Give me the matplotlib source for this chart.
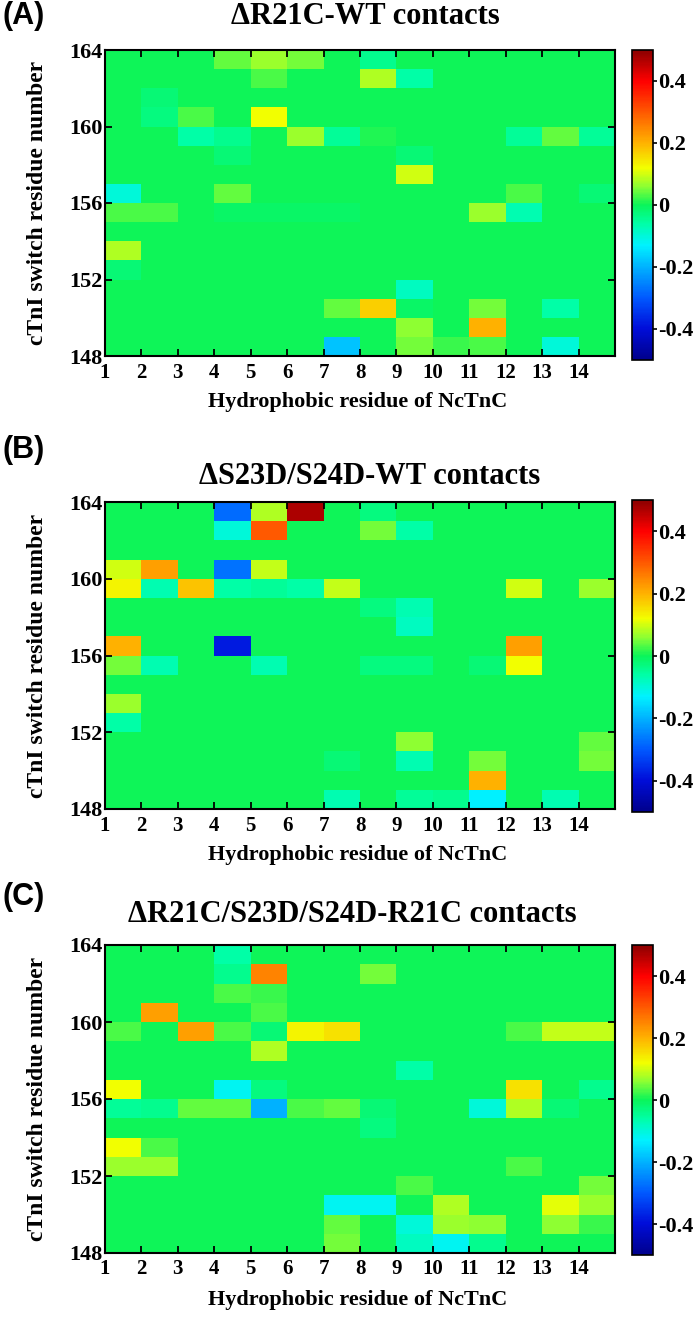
import numpy as np
import matplotlib
matplotlib.use("Agg")
import matplotlib.pyplot as plt
from matplotlib.colors import LinearSegmentedColormap

# ---- data (rows: residue 148 .. 163 bottom->top, cols: NcTnC hydrophobic residue 1..14)
residues_x = list(range(1, 15))
residues_y = list(range(148, 164))

panel_A = [
    [0, 0, 0, 0, 0, 0, -0.18, 0, 0.05, 0.02, 0.03, 0, -0.10, 0],      # 148
    [0, 0, 0, 0, 0, 0, 0, 0, 0.06, 0, 0.20, 0, 0, 0],                 # 149
    [0, 0, 0, 0, 0, 0, 0.04, 0.17, -0.01, 0, 0.05, 0, -0.06, 0],      # 150
    [0, 0, 0, 0, 0, 0, 0, 0, -0.08, 0, 0, 0, 0, 0],                   # 151
    [-0.02, 0, 0, 0, 0, 0, 0, 0, 0, 0, 0, 0, 0, 0],                   # 152
    [0.08, 0, 0, 0, 0, 0, 0, 0, 0, 0, 0, 0, 0, 0],                    # 153
    [0, 0, 0, 0, 0, 0, 0, 0, 0, 0, 0, 0, 0, 0],                       # 154
    [0.03, 0.03, 0, -0.01, -0.01, -0.01, -0.01, 0, 0, 0, 0.07, -0.07, 0, 0],  # 155
    [-0.10, 0, 0, 0.04, 0, 0, 0, 0, 0, 0, 0, 0.03, 0, -0.02],         # 156
    [0, 0, 0, 0, 0, 0, 0, 0, 0.10, 0, 0, 0, 0, 0],                    # 157
    [0, 0, 0, -0.02, 0, 0, 0, 0, -0.02, 0, 0, 0, 0, 0],               # 158
    [0, 0, -0.06, -0.04, 0, 0.07, -0.05, 0.01, 0, 0, 0, -0.05, 0.04, -0.05],  # 159
    [0, -0.03, 0.03, 0, 0.12, 0, 0, 0, 0, 0, 0, 0, 0, 0],             # 160
    [0, -0.02, 0, 0, 0, 0, 0, 0, 0, 0, 0, 0, 0, 0],                   # 161
    [0, 0, 0, 0, 0.03, 0, 0, 0.08, -0.06, 0, 0, 0, 0, 0],             # 162
    [0, 0, 0, 0.04, 0.07, 0.05, 0, -0.04, 0, 0, 0, 0, 0, 0],          # 163
]

panel_B = [
    [0, 0, 0, 0, 0, 0, -0.07, 0, -0.05, -0.04, -0.13, 0, -0.07, 0],   # 148
    [0, 0, 0, 0, 0, 0, 0, 0, 0, 0, 0.20, 0, 0, 0],                    # 149
    [0, 0, 0, 0, 0, 0, -0.02, 0, -0.07, 0, 0.05, 0, 0, 0.05],         # 150
    [0, 0, 0, 0, 0, 0, 0, 0, 0.06, 0, 0, 0, 0, 0.04],                 # 151
    [-0.06, 0, 0, 0, 0, 0, 0, 0, 0, 0, 0, 0, 0, 0],                   # 152
    [0.07, 0, 0, 0, 0, 0, 0, 0, 0, 0, 0, 0, 0, 0],                    # 153
    [0, 0, 0, 0, 0, 0, 0, 0, 0, 0, 0, 0, 0, 0],                       # 154
    [0.05, -0.07, 0, 0, -0.07, 0, 0, -0.03, -0.03, 0, -0.02, 0.12, 0, 0],  # 155
    [0.20, 0, 0, -0.38, 0, 0, 0, 0, 0, 0, 0, 0.22, 0, 0],             # 156
    [0, 0, 0, 0, 0, 0, 0, 0, -0.08, 0, 0, 0, 0, 0],                   # 157
    [0, 0, 0, 0, 0, 0, 0, -0.03, -0.07, 0, 0, 0, 0, 0],               # 158
    [0.13, -0.07, 0.18, -0.06, -0.05, -0.06, 0.09, 0, 0, 0, 0, 0.10, 0, 0.07],  # 159
    [0.10, 0.22, 0, -0.27, 0.09, 0, 0, 0, 0, 0, 0, 0, 0, 0],          # 160
    [0, 0, 0, 0, 0, 0, 0, 0, 0, 0, 0, 0, 0, 0],                       # 161
    [0, 0, 0, -0.10, 0.30, 0, 0, 0.05, -0.06, 0, 0, 0, 0, 0],         # 162
    [0, 0, 0, -0.28, 0.08, 0.47, 0, -0.03, 0, 0, 0, 0, 0, 0],         # 163
]

panel_C = [
    [0, 0, 0, 0, 0, 0, 0.05, 0, -0.08, -0.12, -0.04, 0, 0, 0],        # 148
    [0, 0, 0, 0, 0, 0, 0.04, 0, -0.10, 0.07, 0.06, 0, 0.06, 0.02],    # 149
    [0, 0, 0, 0, 0, 0, -0.12, -0.12, 0, 0.08, 0, 0, 0.11, 0.07],      # 150
    [0, 0, 0, 0, 0, 0, 0, 0, 0.03, 0, 0, 0, 0, 0.05],                 # 151
    [0.07, 0.07, 0, 0, 0, 0, 0, 0, 0, 0, 0, 0.03, 0, 0],              # 152
    [0.12, 0.03, 0, 0, 0, 0, 0, 0, 0, 0, 0, 0, 0, 0],                 # 153
    [0, 0, 0, 0, 0, 0, 0, -0.03, 0, 0, 0, 0, 0, 0],                   # 154
    [-0.05, -0.04, 0.04, 0.04, -0.20, 0.03, 0.04, -0.02, 0, 0, -0.10, 0.08, -0.02, 0],  # 155
    [0.12, 0, 0, -0.12, -0.03, 0, 0, 0, 0, 0, 0, 0.15, 0, -0.04],     # 156
    [0, 0, 0, 0, 0, 0, 0, 0, -0.06, 0, 0, 0, 0, 0],                   # 157
    [0, 0, 0, 0, 0.08, 0, 0, 0, 0, 0, 0, 0, 0, 0],                    # 158
    [0.03, 0, 0.22, 0.03, -0.02, 0.13, 0.15, 0, 0, 0, 0, 0.03, 0.09, 0.09],  # 159
    [0, 0.22, 0, 0, 0.03, 0, 0, 0, 0, 0, 0, 0, 0, 0],                 # 160
    [0, 0, 0, 0.03, 0.02, 0, 0, 0, 0, 0, 0, 0, 0, 0],                 # 161
    [0, 0, 0, -0.04, 0.25, 0, 0, 0.05, 0, 0, 0, 0, 0, 0],             # 162
    [0, 0, 0, -0.06, 0, 0, 0, 0, 0, 0, 0, 0, 0, 0],                   # 163
]

titles = ["\u0394R21C-WT contacts", "\u0394S23D/S24D-WT contacts",
          "\u0394R21C/S23D/S24D-R21C contacts"]
panel_labels = ["(A)", "(B)", "(C)"]
xlabel = "Hydrophobic residue of NcTnC"
ylabel = "cTnI switch residue number"
yticks = [148, 152, 156, 160, 164]
cbar_ticks = [-0.4, -0.2, 0, 0.2, 0.4]
cbar_ticklabels = ["-0.4", "-0.2", "0", "0.2", "0.4"]

# ---- saturated jet-like colormap as in the reference
cmap = LinearSegmentedColormap.from_list("jet_sat", [
    (0.00, (0.00, 0.00, 0.55)),
    (0.10, (0.00, 0.05, 0.85)),
    (0.20, (0.00, 0.35, 1.00)),
    (0.30, (0.00, 0.70, 1.00)),
    (0.37, (0.00, 0.95, 1.00)),
    (0.44, (0.00, 1.00, 0.65)),
    (0.50, (0.04, 0.96, 0.35)),
    (0.56, (0.55, 1.00, 0.20)),
    (0.62, (0.95, 1.00, 0.00)),
    (0.70, (1.00, 0.70, 0.00)),
    (0.80, (1.00, 0.35, 0.00)),
    (0.90, (1.00, 0.00, 0.00)),
    (1.00, (0.55, 0.00, 0.00)),
])

W, H = 693, 1319
fig = plt.figure(figsize=(W / 100, H / 100), dpi=100)

serif = "Liberation Serif"
sans = "Liberation Sans"

# layout in pixels (from top)
ax_boxes = [(50, 356), (502, 809), (945, 1253)]
cb_boxes = [(50, 360), (500, 812), (945, 1255)]
title_pos = [(365, 16), (370, 476), (352, 914)]
label_y = [16, 450, 897]
xlabel_y = [402, 855, 1300]
tick_pads = [5, 5, 4]
left_px, right_px = 105, 615
cb_left, cb_right = 632, 653


def fx(px):
    return px / W


def fy(py):
    return 1 - py / H


xedges = np.arange(residues_x[0], residues_x[-1] + 2)
yedges = np.arange(residues_y[0], residues_y[-1] + 2)

for i, data in enumerate([panel_A, panel_B, panel_C]):
    top, bot = ax_boxes[i]
    ax = fig.add_axes([fx(left_px), fy(bot), (right_px - left_px) / W, (bot - top) / H])
    mesh = ax.pcolormesh(xedges, yedges, np.array(data), cmap=cmap, vmin=-0.5, vmax=0.5,
                         shading="flat")
    ax.set_xlim(xedges[0], xedges[-1])
    ax.set_ylim(yedges[0], yedges[-1])
    ax.set_xticks(residues_x)
    ax.set_xticklabels([str(v) for v in residues_x], fontfamily=serif, fontweight="bold",
                       fontsize=15)
    ax.set_yticks(yticks)
    ax.set_yticklabels([str(v) for v in yticks], fontfamily=serif, fontweight="bold",
                       fontsize=16)
    ax.tick_params(direction="in", length=5, width=1.3, top=True, right=True,
                   colors="black")
    ax.tick_params(axis="x", pad=tick_pads[i])
    ax.tick_params(axis="y", pad=2)
    for sp in ax.spines.values():
        sp.set_linewidth(1.5)
    ax.set_ylabel(ylabel, fontfamily=serif, fontweight="bold", fontsize=17)
    ax.yaxis.set_label_coords((48 - left_px) / (right_px - left_px), 0.5)

    fig.text(fx(358), fy(xlabel_y[i]), xlabel, fontfamily=serif, fontweight="bold",
             fontsize=16, ha="center", va="center")
    tx, ty = title_pos[i]
    fig.text(fx(tx), fy(ty), titles[i], fontfamily=serif, fontweight="bold",
             fontsize=22, ha="center", va="center")
    fig.text(fx(3), fy(label_y[i]), panel_labels[i], fontfamily=sans, fontweight="bold",
             fontsize=22, ha="left", va="center")

    ctop, cbot = cb_boxes[i]
    cax = fig.add_axes([fx(cb_left), fy(cbot), (cb_right - cb_left) / W, (cbot - ctop) / H])
    cb = fig.colorbar(mesh, cax=cax, ticks=cbar_ticks)
    cb.ax.set_yticklabels(cbar_ticklabels, fontfamily=serif, fontweight="bold", fontsize=16)
    cb.ax.tick_params(direction="out", length=3, width=1.2, pad=1)
    cb.outline.set_linewidth(1.2)

fig.savefig("out.png", dpi=100)
